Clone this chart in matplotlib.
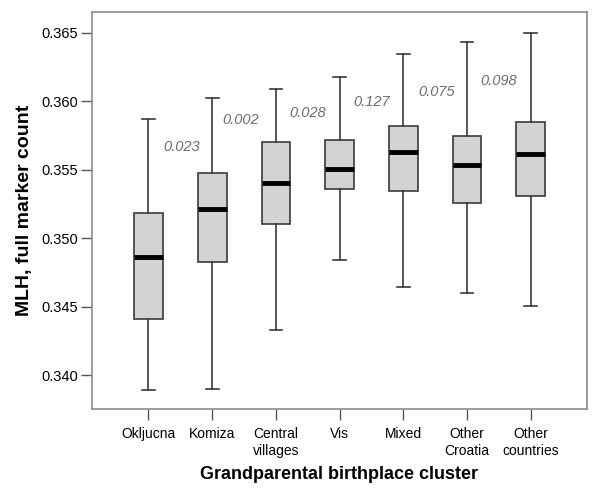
"""Boxplot of MLH (full marker count) by grandparental birthplace cluster."""

import matplotlib
matplotlib.use("Agg")
import matplotlib.pyplot as plt

plt.rcParams["font.family"] = ["Liberation Sans", "DejaVu Sans"]

clusters = ["Okljucna", "Komiza", "Central\nvillages", "Vis", "Mixed",
            "Other\nCroatia", "Other\ncountries"]
whisker_low = [0.33892, 0.33904, 0.34330, 0.34839, 0.34646, 0.34602, 0.34505]
q1 = [0.34408, 0.34824, 0.35104, 0.35357, 0.35347, 0.35255, 0.35308]
median = [0.34865, 0.35211, 0.35401, 0.35503, 0.35629, 0.35536, 0.35617]
q3 = [0.35182, 0.35476, 0.35700, 0.35715, 0.35824, 0.35751, 0.35853]
whisker_high = [0.35875, 0.36026, 0.36091, 0.36177, 0.36347, 0.36434, 0.36498]

# p-values shown between neighbouring boxes
p_labels = ["0.023", "0.002", "0.028", "0.127", "0.075", "0.098"]
p_x = [1.52, 2.45, 3.50, 4.50, 5.52, 6.50]
p_y = [0.35666, 0.35863, 0.35912, 0.35996, 0.36069, 0.36150]

y_ticks = [0.340, 0.345, 0.350, 0.355, 0.360, 0.365]

EDGE = "#3a3a3a"
SPINE = "#8c8c8c"

stats = [
    {"whislo": lo, "q1": a, "med": m, "q3": b, "whishi": hi, "fliers": []}
    for lo, a, m, b, hi in zip(whisker_low, q1, median, q3, whisker_high)
]

fig = plt.figure(figsize=(6, 5), dpi=100)
ax = fig.add_axes([0.153, 0.183, 0.825, 0.792])

positions = list(range(1, len(clusters) + 1))
ax.bxp(
    stats,
    positions=positions,
    widths=0.45,
    capwidths=0.2,
    patch_artist=True,
    showfliers=False,
    boxprops=dict(facecolor="#d3d3d3", edgecolor=EDGE, linewidth=1.2),
    whiskerprops=dict(color=EDGE, linewidth=1.2),
    capprops=dict(color=EDGE, linewidth=1.2),
    medianprops=dict(color="black", linewidth=3.5, solid_capstyle="butt"),
)

for lbl, x, y in zip(p_labels, p_x, p_y):
    ax.text(x, y, lbl, ha="center", va="center", fontsize=10.5,
            style="italic", color="#6e6e6e")

ax.set_xlim(0.11, 7.88)
ax.set_ylim(0.33758, 0.36649)
ax.set_yticks(y_ticks)
ax.set_yticklabels([f"{v:.3f}" for v in y_ticks], fontsize=10.5)
ax.set_xticks(positions)
ax.set_xticklabels(clusters, fontsize=10, linespacing=1.3)

ax.tick_params(axis="both", direction="out", length=8, width=1.0,
               color="#555555", labelcolor="black")
ax.tick_params(axis="y", pad=2)
ax.tick_params(axis="x", pad=5)
for s in ax.spines.values():
    s.set_color(SPINE)
    s.set_linewidth(1.2)

ax.set_ylabel("MLH, full marker count", fontsize=14, fontweight="bold", labelpad=6)
ax.set_xlabel("Grandparental birthplace cluster", fontsize=13, fontweight="bold",
              labelpad=6)

fig.savefig("out.png", dpi=100)
